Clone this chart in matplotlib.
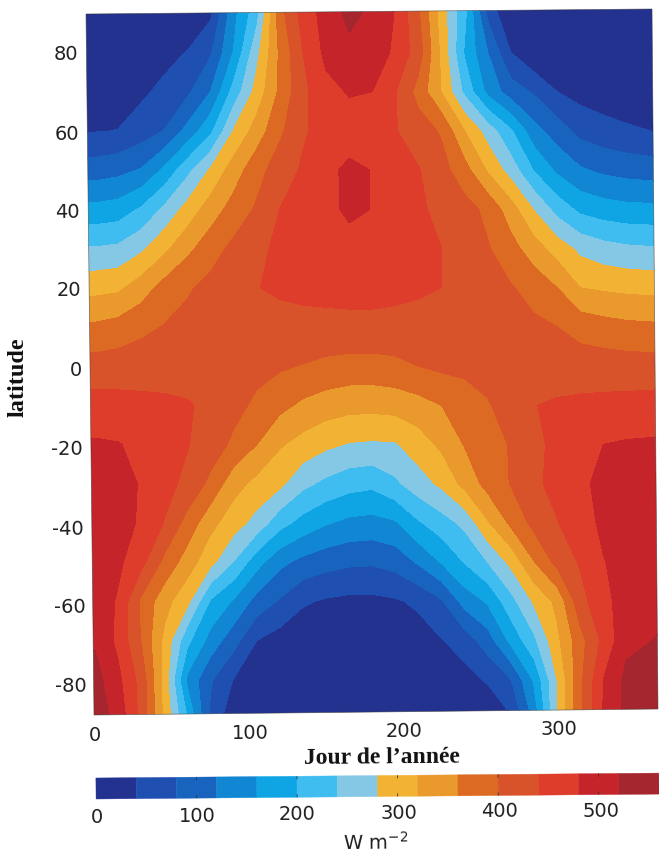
import numpy as np
import matplotlib
matplotlib.use("Agg")
import matplotlib.pyplot as plt
from matplotlib.colors import ListedColormap, BoundaryNorm
from matplotlib.patches import Polygon
from matplotlib.transforms import Affine2D, IdentityTransform, ScaledTranslation

W, H = 659, 853

days = [0, 15, 30, 45, 60, 75, 90, 105, 120, 135, 150, 165, 180, 195, 210, 225, 240, 255, 270, 285, 300, 315, 330, 345, 365]
lats = [90, 80, 70, 60, 50, 40, 30, 20, 10, 0, -10, -20, -30, -40, -50, -60, -70, -80, -90]

# W m-2, one row per latitude
lat_p90 = [0, 0, 0, 0, 0, 32, 148, 225, 385, 455, 497, 530, 512, 478, 405, 300, 210, 70, 0, 0, 0, 0, 0, 0, 0]
lat_p80 = [0, 0, 8, 25, 42, 75, 162, 268, 367, 440, 490, 510, 505, 472, 420, 310, 195, 120, 40, 5, 0, 0, 0, 0, 0]
lat_p70 = [10, 20, 32, 51, 72, 120, 215, 295, 368, 430, 468, 483, 480, 442, 385, 318, 230, 148, 100, 75, 40, 25, 18, 10, 8]
lat_p60 = [38, 41, 60, 81, 132, 190, 282, 338, 392, 435, 455, 462, 462, 442, 420, 395, 320, 262, 205, 135, 100, 68, 55, 47, 38]
lat_p50 = [100, 108, 123, 168, 228, 285, 340, 385, 420, 445, 470, 488, 479, 455, 442, 415, 375, 315, 262, 197, 152, 125, 112, 105, 100]
lat_p40 = [172, 178, 205, 248, 295, 340, 375, 405, 440, 455, 468, 488, 479, 460, 445, 432, 415, 390, 338, 278, 225, 190, 178, 172, 170]
lat_p30 = [243, 248, 272, 310, 350, 382, 410, 432, 447, 452, 458, 465, 463, 458, 450, 440, 425, 403, 375, 338, 302, 270, 255, 247, 243]
lat_p20 = [307, 312, 340, 375, 395, 412, 425, 439, 445, 448, 450, 452, 452, 450, 446, 440, 428, 415, 403, 385, 360, 320, 314, 310, 307]
lat_p10 = [367, 375, 390, 402, 412, 418, 422, 425, 428, 430, 430, 430, 430, 428, 425, 424, 422, 420, 415, 408, 400, 385, 376, 370, 367]
lat_0 = [417, 420, 422, 424, 423, 420, 417, 412, 405, 398, 390, 385, 385, 390, 400, 408, 412, 416, 418, 420, 420, 420, 420, 418, 417]
lat_m10 = [455, 453, 450, 447, 443, 432, 412, 392, 371, 352, 340, 333, 332, 335, 345, 360, 375, 396, 420, 439, 445, 448, 450, 452, 455]
lat_m20 = [485, 482, 470, 458, 442, 420, 392, 360, 324, 305, 288, 277, 274, 276, 300, 328, 362, 382, 403, 432, 448, 462, 480, 484, 486]
lat_m30 = [500, 495, 477, 453, 430, 390, 335, 308, 289, 250, 230, 215, 209, 232, 262, 288, 332, 374, 402, 432, 452, 472, 490, 498, 500]
lat_m40 = [505, 495, 475, 438, 385, 332, 298, 265, 215, 185, 163, 150, 146, 155, 195, 222, 250, 315, 368, 412, 438, 462, 488, 500, 505]
lat_m50 = [505, 488, 452, 390, 340, 292, 238, 175, 130, 108, 95, 87, 85, 95, 125, 163, 202, 240, 290, 358, 412, 444, 478, 495, 505]
lat_m60 = [508, 475, 392, 335, 290, 195, 155, 105, 75, 45, 35, 30, 30, 35, 48, 75, 135, 165, 225, 285, 330, 425, 470, 495, 508]
lat_m70 = [515, 470, 398, 310, 210, 144, 95, 40, 22, 12, 8, 5, 5, 5, 20, 38, 58, 100, 170, 230, 310, 385, 450, 510, 522]
lat_m80 = [535, 490, 425, 305, 150, 85, 38, 15, 0, 0, 0, 0, 0, 0, 0, 0, 25, 45, 78, 165, 280, 390, 480, 530, 540]
lat_m90 = [545, 505, 428, 310, 200, 70, 10, 0, 0, 0, 0, 0, 0, 0, 0, 0, 0, 0, 35, 130, 280, 390, 482, 530, 545]

levels = [0, 40, 80, 120, 160, 200, 240, 280, 320, 360, 400, 440, 480, 520, 560]
colors = ["#23318f", "#1f4fb0", "#1763bd", "#1186d2", "#0fa5e4", "#3fbcf0", "#85c8e6",
          "#f2b233", "#ea9a2c", "#dd6a22", "#d9532a", "#dd3d2a", "#c4242a", "#a5262e"]
x_ticks = [0, 100, 200, 300]
y_ticks = [80, 60, 40, 20, 0, -20, -40, -60, -80]
cbar_ticks = [0, 100, 200, 300, 400, 500]

grid = np.array([lat_p90, lat_p80, lat_p70, lat_p60, lat_p50, lat_p40, lat_p30, lat_p20, lat_p10, lat_0,
                 lat_m10, lat_m20, lat_m30, lat_m40, lat_m50, lat_m60, lat_m70, lat_m80, lat_m90])

# the scan is slightly tilted, so pad the grid a little past its edges and clip to the tilted frame
grid = np.pad(grid, ((1, 0), (1, 0)), mode='edge')
x_pad = [-9] + days
y_pad = [94] + lats

plt.rcParams['font.family'] = ['DejaVu Sans']
plt.rcParams['mathtext.default'] = 'regular'
plt.rcParams['axes.unicode_minus'] = False
text_col = "#1e1e1e"
tilt = 0.5


def px(x, y):
    return (x, H - y)


def nudge(lab, dx, dy):
    lab.set_transform(lab.get_transform() + ScaledTranslation(dx / 100, dy / 100, fig.dpi_scale_trans))
    lab.set_rotation(tilt)


fig = plt.figure(figsize=(W / 100, H / 100), dpi=100)

# main panel, pixel box converted to figure fractions
ax = fig.add_axes([83 / W, 1 - 720 / H, (659 - 83) / W, (720 - 8) / H])
cmap = ListedColormap(colors)
norm = BoundaryNorm(levels, cmap.N)
cs = ax.contourf(x_pad, y_pad, grid, levels=levels, cmap=cmap, norm=norm)
ax.set_xlim(-7.8, 366.2)
ax.set_ylim(-90, 91.6)
ax.set_xticks(x_ticks)
ax.set_yticks(y_ticks)
ax.tick_params(length=0, labelsize=14, colors=text_col, pad=0)
ax.tick_params(axis='x', pad=4)
for s in ax.spines.values():
    s.set_visible(False)

frame_pts = [px(86, 15), px(652, 10), px(658, 710), px(94, 716)]
clip = Polygon(frame_pts, closed=True, transform=IdentityTransform())
cs.set_clip_path(clip)
ax.add_artist(Polygon(frame_pts, closed=True, fill=False, edgecolor='#3a3a3a', lw=0.5, alpha=0.7,
                      transform=IdentityTransform(), clip_on=False))

for lab, dx, dy in zip(ax.get_xticklabels(), [0, 1, 1, 2], [0, 2, 4, 6]):
    nudge(lab, dx, dy)
for lab, dx, dy in zip(ax.get_yticklabels(), [-5, -4, -3, -2, -1, 0, 1, 3, 4], [1, 0, 0, 0, -1, -2, -3, -3, -3]):
    nudge(lab, dx, dy)

fig.text(382 / W, 1 - 758 / H, "Jour de l\u2019ann\u00e9e", family='Liberation Serif', fontweight='bold', fontsize=17,
         color='#111111', ha='center', va='center', rotation=tilt)
fig.text(18 / W, 1 - 377 / H, "latitude", family='Liberation Serif', fontweight='bold', fontsize=17.5,
         color='#111111', rotation=90, ha='center', va='center')

# colour bar under the panel, built from bars so it can tilt like the scan
cax = fig.add_axes([96 / W, 1 - 800 / H, (659 - 96) / W, 21 / H])
rot = Affine2D().rotate_deg_around(96, H - 790, tilt)
cax.bar(levels[:-1], 1, width=np.diff(levels), align='edge', color=colors, edgecolor=colors, lw=0.3,
        transform=cax.transData + rot, clip_on=False)
cax.vlines(cbar_ticks[1:], 0, 0.14, color='#333333', lw=0.6, transform=cax.transData + rot, clip_on=False)
cax.vlines(cbar_ticks[1:], 0.86, 1, color='#333333', lw=0.6, transform=cax.transData + rot, clip_on=False)
cax.set_xlim(0, 560)
cax.set_ylim(0, 1)
cax.set_yticks([])
cax.set_xticks(cbar_ticks)
for s in cax.spines.values():
    s.set_visible(False)
cax.tick_params(length=0, labelsize=14, colors=text_col, pad=4)
for lab, dx, dy in zip(cax.get_xticklabels(), [1, 1, 0, 1, 1, 2], [-2, -1, 1, 2, 4, 4]):
    nudge(lab, dx, dy)
fig.text(376 / W, 1 - 843 / H, "W m$^{-2}$", fontsize=14, color=text_col, ha='center', va='center', rotation=tilt)

fig.savefig("out.png", dpi=100)
